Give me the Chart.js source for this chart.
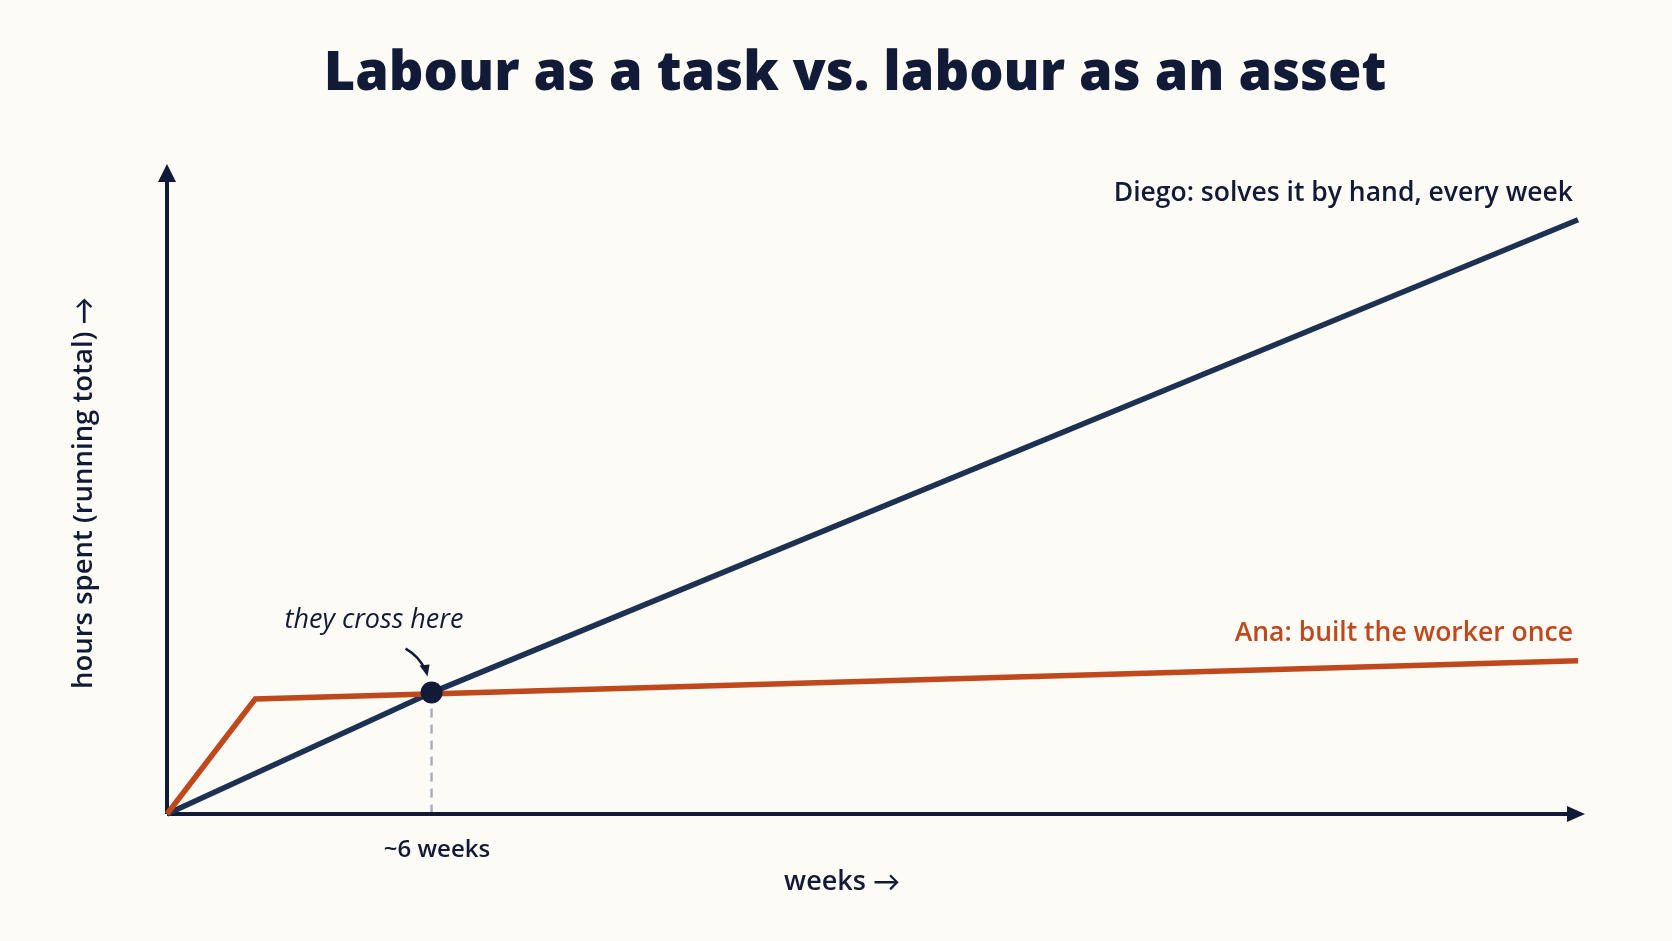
<!DOCTYPE html>
<html>
<head>
<meta charset="utf-8">
<script src="https://cdn.jsdelivr.net/npm/chart.js@4"></script>
<style>
  html, body { margin: 0; padding: 0; background: #fcfbf6; }
  canvas { display: block; }
</style>
</head>
<body>
<canvas id="grafico" width="1672" height="941"></canvas>
<script>
// dados (semanas x horas acumuladas)
const diegoWeeks = [0, 6, 32];
const diegoHours = [0, 19, 93];
const anaWeeks = [0, 2, 32];
const anaHours = [0, 18, 24];
const crossWeek = 6;
const crossHours = 19;

const navy = '#111a36';
const diegoColor = '#1d3152';
const anaColor = '#bf481d';
const fam = '"Open Sans", "Noto Sans", sans-serif';

const toPoints = (xs, ys) => xs.map((x, i) => ({ x: x, y: ys[i] }));

// texto + seta (a seta do Open Sans e muito pequena)
function textWithArrow(ctx, txt, cx, cy, size) {
  ctx.font = '600 ' + size + 'px ' + fam;
  const w1 = ctx.measureText(txt + ' ').width;
  ctx.font = '600 ' + size + 'px Lato';
  const w2 = ctx.measureText('\u2192').width;
  const start = cx - (w1 + w2) / 2;
  ctx.textAlign = 'left';
  ctx.font = '600 ' + size + 'px ' + fam;
  ctx.fillText(txt + ' ', start, cy);
  ctx.font = '600 ' + size + 'px Lato';
  ctx.fillText('\u2192', start + w1, cy);
}

// eixos com setas e textos
const extras = {
  id: 'extras',
  beforeDatasetsDraw(chart) {
    const ctx = chart.ctx;
    const x = chart.scales.x, y = chart.scales.y;
    const x0 = x.getPixelForValue(0), y0 = y.getPixelForValue(0);
    ctx.save();
    // linha tracejada ate o eixo
    const cx = x.getPixelForValue(crossWeek), cy = y.getPixelForValue(crossHours);
    ctx.strokeStyle = '#a9adc0';
    ctx.lineWidth = 2.5;
    ctx.setLineDash([9, 7]);
    ctx.beginPath();
    ctx.moveTo(cx, cy);
    ctx.lineTo(cx, y0);
    ctx.stroke();
    ctx.setLineDash([]);

    ctx.strokeStyle = navy;
    ctx.fillStyle = navy;
    ctx.lineWidth = 4;
    ctx.beginPath();
    ctx.moveTo(x0, y0);
    ctx.lineTo(1570, y0);
    ctx.moveTo(x0, y0);
    ctx.lineTo(x0, 178);
    ctx.stroke();
    // pontas de seta
    ctx.beginPath();
    ctx.moveTo(1585, y0);
    ctx.lineTo(1567, y0 - 8);
    ctx.lineTo(1567, y0 + 8);
    ctx.closePath();
    ctx.fill();
    ctx.beginPath();
    ctx.moveTo(x0, 164);
    ctx.lineTo(x0 - 9, 182);
    ctx.lineTo(x0 + 9, 182);
    ctx.closePath();
    ctx.fill();
    ctx.restore();
  },
  afterDatasetsDraw(chart) {
    const ctx = chart.ctx;
    const x = chart.scales.x, y = chart.scales.y;
    const cx = x.getPixelForValue(crossWeek), cy = y.getPixelForValue(crossHours);
    ctx.save();
    ctx.textBaseline = 'middle';

    ctx.fillStyle = navy;
    ctx.textAlign = 'center';
    ctx.font = '800 54px ' + fam;
    ctx.fillText('Labour as a task vs. labour as an asset', 855, 75);

    ctx.textAlign = 'right';
    ctx.font = '600 26.5px ' + fam;
    ctx.fillText('Diego: solves it by hand, every week', 1573, 193);
    ctx.fillStyle = anaColor;
    ctx.fillText('Ana: built the worker once', 1573, 633);

    ctx.fillStyle = navy;
    ctx.textAlign = 'center';
    ctx.font = 'italic 27px ' + fam;
    ctx.fillText('they cross here', 374, 620);

    ctx.font = '600 24px ' + fam;
    ctx.fillText('~6 weeks', 437, 850);
    textWithArrow(ctx, 'weeks', 842, 882, 27);

    ctx.save();
    ctx.translate(84, 493);
    ctx.rotate(-Math.PI / 2);
    textWithArrow(ctx, 'hours spent (running total)', 0, 0, 27.5);
    ctx.restore();

    // seta curva
    ctx.strokeStyle = navy;
    ctx.lineWidth = 2.5;
    ctx.beginPath();
    ctx.moveTo(cx - 26, cy - 44);
    ctx.quadraticCurveTo(cx - 12, cy - 36, cx - 6, cy - 22);
    ctx.stroke();
    ctx.beginPath();
    ctx.moveTo(cx - 4, cy - 16);
    ctx.lineTo(cx - 12, cy - 27);
    ctx.lineTo(cx - 2, cy - 28);
    ctx.closePath();
    ctx.fill();
    ctx.restore();
  }
};

new Chart(document.getElementById('grafico'), {
  type: 'line',
  data: {
    datasets: [
      {
        label: 'Ana: built the worker once',
        data: toPoints(anaWeeks, anaHours),
        borderColor: anaColor,
        borderWidth: 5.5,
        pointRadius: 0,
        tension: 0,
        clip: false,
        order: 2
      },
      {
        label: 'Diego: solves it by hand, every week',
        data: toPoints(diegoWeeks, diegoHours),
        borderColor: diegoColor,
        borderWidth: 5.5,
        pointRadius: 0,
        tension: 0,
        clip: false,
        order: 3
      },
      {
        label: 'cross',
        data: [{ x: crossWeek, y: crossHours }],
        showLine: false,
        pointRadius: 11,
        pointBackgroundColor: navy,
        pointBorderWidth: 0,
        clip: false,
        order: 1
      }
    ]
  },
  options: {
    responsive: false,
    animation: false,
    layout: { padding: { left: 167, right: 94, top: 175, bottom: 127 } },
    plugins: {
      legend: { display: false },
      tooltip: { enabled: false }
    },
    scales: {
      x: { type: 'linear', min: 0, max: 32, display: false },
      y: { min: 0, max: 100, display: false }
    }
  },
  plugins: [extras]
});
</script>
</body>
</html>
